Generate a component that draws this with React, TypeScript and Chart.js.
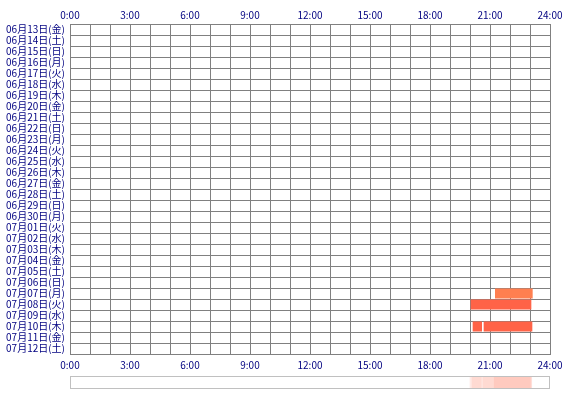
import React, { useRef, useEffect } from "react";
import { Chart, registerables } from "chart.js";

Chart.register(...registerables);

const days = [
  "06月13日(金)", "06月14日(土)", "06月15日(日)", "06月16日(月)", "06月17日(火)",
  "06月18日(水)", "06月19日(木)", "06月20日(金)", "06月21日(土)", "06月22日(日)",
  "06月23日(月)", "06月24日(火)", "06月25日(水)", "06月26日(木)", "06月27日(金)",
  "06月28日(土)", "06月29日(日)", "06月30日(月)", "07月01日(火)", "07月02日(水)",
  "07月03日(木)", "07月04日(金)", "07月05日(土)", "07月06日(日)", "07月07日(月)",
  "07月08日(火)", "07月09日(水)", "07月10日(木)", "07月11日(金)", "07月12日(土)",
];

const hourLabels = ["0:00", "3:00", "6:00", "9:00", "12:00", "15:00", "18:00", "21:00", "24:00"];

// one entry per time block
const segmentDays = ["07月07日(月)", "07月08日(火)", "07月10日(木)", "07月10日(木)"];
const segmentStarts = ["21:15", "20:02", "20:08", "20:41"];
const segmentEnds = ["23:08", "23:04", "20:36", "23:07"];

const barColors = ["#FF7F50", "#FF6347", "#FF6347", "#FF6347"];
const GRID = "#808080";
const NAVY = "#000080";
const FONT = { family: "'Noto Sans CJK JP', 'DejaVu Sans', sans-serif", size: 10 };

const toHours = (t: string) => {
  const [h, m] = t.split(":").map(Number);
  return h + m / 60;
};

const hourTick = (v: string | number) => {
  const n = Number(v);
  return n % 3 === 0 ? hourLabels[n / 3] : "";
};

const App = () => {
  const mainRef = useRef<HTMLCanvasElement | null>(null);
  const overRef = useRef<HTMLCanvasElement | null>(null);

  useEffect(() => {
    const charts: Chart[] = [];

    const mainCtx = mainRef.current?.getContext("2d");
    if (mainCtx) {
      const datasets = segmentDays.map((day, i) => ({
        label: day,
        data: days.map((d) =>
          d === day ? [toHours(segmentStarts[i]), toHours(segmentEnds[i])] : null
        ),
        backgroundColor: barColors[i],
        borderWidth: 0,
        borderSkipped: false,
        grouped: false,
        barPercentage: 0.91,
        categoryPercentage: 1,
      }));

      charts.push(
        new Chart(mainCtx, {
          type: "bar",
          data: { labels: days, datasets: datasets as any },
          options: {
            indexAxis: "y",
            animation: false,
            responsive: false,
            layout: { padding: { left: 0, right: 20, top: 0, bottom: 0 } },
            plugins: { legend: { display: false }, tooltip: { enabled: false } },
            scales: {
              y: {
                type: "category",
                grid: { color: GRID, lineWidth: 1, offset: true, drawTicks: false },
                border: { color: GRID },
                ticks: { color: NAVY, font: FONT, padding: 5, autoSkip: false },
                afterFit: (s: any) => {
                  s.width = 70;
                },
              },
              x: {
                type: "linear",
                position: "bottom",
                min: 0,
                max: 24,
                grid: { color: GRID, lineWidth: 1, drawTicks: false },
                border: { color: GRID },
                ticks: {
                  stepSize: 1,
                  autoSkip: false,
                  maxRotation: 0,
                  color: NAVY,
                  font: FONT,
                  padding: 5,
                  callback: hourTick,
                },
                afterFit: (s: any) => {
                  s.height = 16;
                },
              },
              x2: {
                type: "linear",
                position: "top",
                min: 0,
                max: 24,
                grid: { display: false, drawTicks: false },
                border: { display: false },
                ticks: {
                  stepSize: 1,
                  autoSkip: false,
                  maxRotation: 0,
                  color: NAVY,
                  font: FONT,
                  padding: 3,
                  callback: hourTick,
                },
                afterFit: (s: any) => {
                  s.height = 24;
                },
              },
            },
          },
        })
      );
    }

    const overCtx = overRef.current?.getContext("2d");
    if (overCtx) {
      const frame = {
        id: "frame",
        afterDraw: (c: Chart) => {
          const { left, top, right, bottom } = c.chartArea;
          const ctx = c.ctx;
          ctx.save();
          ctx.strokeStyle = "#C0C0C0";
          ctx.lineWidth = 1;
          ctx.strokeRect(left - 0.5, top - 0.5, right - left + 1, bottom - top + 1);
          ctx.restore();
        },
      };
      charts.push(
        new Chart(overCtx, {
          type: "bar",
          data: {
            labels: ["all"],
            datasets: segmentDays.map((day, i) => ({
              label: day,
              data: [[toHours(segmentStarts[i]), toHours(segmentEnds[i])]],
              backgroundColor: "rgba(255, 99, 71, 0.13)",
              borderWidth: 0,
              borderSkipped: false,
              grouped: false,
              barPercentage: 1,
              categoryPercentage: 1,
            })) as any,
          },
          options: {
            indexAxis: "y",
            animation: false,
            responsive: false,
            layout: { padding: { left: 71, right: 21, top: 7, bottom: 7 } },
            plugins: { legend: { display: false }, tooltip: { enabled: false } },
            scales: {
              x: { type: "linear", min: 0, max: 24, display: false },
              y: { display: false },
            },
          },
          plugins: [frame],
        })
      );
    }

    return () => {
      charts.forEach((c) => c.destroy());
    };
  }, []);

  return (
    <div style={{ position: "fixed", left: 0, top: 0, width: 570, height: 400, background: "#fff" }}>
      <canvas ref={mainRef} width={570} height={370} style={{ position: "absolute", left: 0, top: 0 }} />
      <canvas ref={overRef} width={570} height={25} style={{ position: "absolute", left: 0, top: 370 }} />
    </div>
  );
};

export default App;
